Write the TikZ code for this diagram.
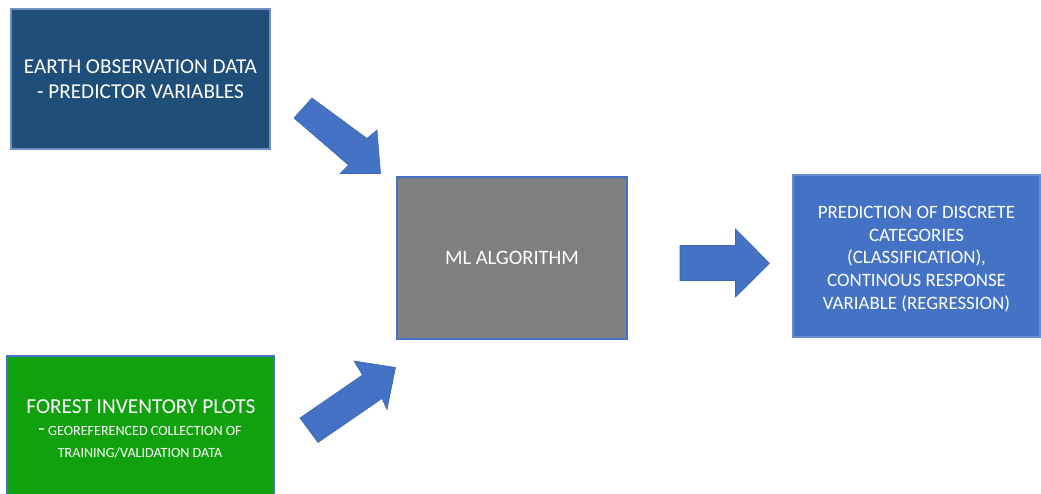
\documentclass[tikz,border=0pt]{standalone}
\usepackage{fontspec}
\setmainfont{Carlito}
\definecolor{eoblue}{HTML}{1F4E79}
\definecolor{eoedge}{HTML}{6F8FC6}
\definecolor{forest}{HTML}{12A10E}
\definecolor{mlgray}{HTML}{7F7F7F}
\definecolor{accent}{HTML}{4472C4}
\definecolor{accentdark}{HTML}{3C66B4}
\tikzset{
  panel/.style={rectangle, inner sep=0pt, line width=1.3pt, draw=accent,
    text=white, align=center},
  lbl/.style={text=white, inner sep=0pt, anchor=center, align=center},
  blockarrow/.style={fill=accent, draw=accentdark, line width=0.6pt, line join=miter},
}
\begin{document}
\begin{tikzpicture}[x=1pt, y=-1pt]
  \clip (0,0) rectangle (1041,494);
  \fill[white] (0,0) rectangle (1041,494);

  % input: earth observation data
  \node[panel, fill=eoblue, draw=eoedge, minimum width=259pt, minimum height=140pt,
        font=\fontsize{21.2}{25.5}\selectfont]
    (eo) at (140.5,79) {EARTH OBSERVATION DATA\\- PREDICTOR VARIABLES};

  % input: forest inventory plots
  \node[panel, fill=forest, minimum width=267pt, minimum height=144pt]
    (fi) at (140.5,428) {};
  \node[lbl, font=\fontsize{21.3}{25}\selectfont] (fi-title) at (141,406.5)
    {FOREST INVENTORY PLOTS};
  \node[lbl] (fi-sub1) at (140,431)
    {{\fontsize{21}{22}\selectfont -\,}{\fontsize{14.1}{20}\selectfont GEOREFERENCED COLLECTION OF}};
  \node[lbl, font=\fontsize{14.1}{20}\selectfont] (fi-sub2) at (140,453)
    {TRAINING/VALIDATION DATA};

  % the model
  \node[panel, fill=mlgray, line width=1.8pt, minimum width=230pt, minimum height=162pt,
        font=\fontsize{20.5}{24}\selectfont]
    (ml) at (512,258) {ML ALGORITHM};

  % output
  \node[panel, fill=accent, draw=accent!80!white, minimum width=247pt, minimum height=162pt]
    (pred) at (916.5,256) {};
  \node[lbl, font=\fontsize{18.9}{22.8}\selectfont] (pred-text) at (916.5,259)
    {PREDICTION OF DISCRETE\\CATEGORIES\\(CLASSIFICATION),\\CONTINOUS RESPONSE\\VARIABLE (REGRESSION)};

  % block arrows feeding the model and its output
  \draw[blockarrow] (312,98) -- (367,138.5) -- (377,130) -- (380.5,173.5)
    -- (340,173.5) -- (348.5,165) -- (294,118) -- cycle;
  \draw[blockarrow] (300,418) -- (318,442.5) -- (382,398.5) -- (387,409.5)
    -- (395.5,367.5) -- (354,361) -- (362.5,375) -- cycle;
  \draw[blockarrow] (680,245.5) -- (735.5,245.5) -- (735.5,229) -- (769.5,263.3)
    -- (735.5,297) -- (735.5,280.5) -- (680,280.5) -- cycle;
\end{tikzpicture}
\end{document}
